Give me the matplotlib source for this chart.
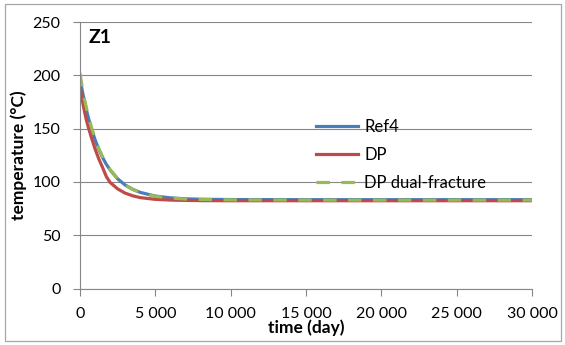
import matplotlib
matplotlib.use('Agg')
import matplotlib.pyplot as plt
from matplotlib.patches import Rectangle
from matplotlib.ticker import FuncFormatter

# time in days
time_day = [0, 100, 200, 300, 400, 500, 600, 750, 1000, 1250, 1500, 1750,
            2000, 2500, 3000, 3500, 4000, 5000, 6000, 7000, 8000, 10000,
            15000, 20000, 25000, 30000]

# temperatures (°C)
ref4 = [197, 189.3, 182.1, 175.4, 169.1, 163.3, 157.9, 150.4, 139.6, 130.5,
        122.9, 116.5, 111.2, 102.9, 97.1, 93.1, 90.2, 86.8, 85.1, 84.2,
        83.8, 83.5, 83.4, 83.4, 83.4, 83.4]
dp = [190, 181, 173, 166, 159.5, 154, 149, 142, 131, 121.5, 113.5, 105,
      99.5, 93.5, 89.5, 87, 85.3, 83.7, 83, 82.7, 82.5, 82.4, 82.4, 82.4,
      82.4, 82.4]
dp_dual = [202, 193, 185, 177.5, 171, 165, 159, 151.5, 140.5, 131, 123.5,
           117, 111.5, 103, 97, 93, 90, 86.5, 85, 84, 83.6, 83.2, 83.0,
           83.0, 83.0, 83.0]

x_ticks = [0, 5000, 10000, 15000, 20000, 25000, 30000]
y_ticks = [0, 50, 100, 150, 200, 250]

plt.rcParams['font.family'] = ['Lato', 'DejaVu Sans']

fig = plt.figure(figsize=(5.65, 3.45), dpi=100)
ax = fig.add_axes([80 / 565, 1 - 288.6 / 345, 452 / 565, 266.6 / 345])

# outer chart border
fig.patches.append(Rectangle((5 / 565, 4 / 345), 556 / 565, 337 / 345,
                             transform=fig.transFigure, fill=False,
                             edgecolor='#a6a6a6', linewidth=0.9))

ax.plot(time_day, ref4, color='#4a7ebb', lw=2.3, label='Ref4')
ax.plot(time_day, dp, color='#be4b48', lw=2.3, label='DP')
ax.plot(time_day, dp_dual, color='#98b954', lw=2.3, dashes=(4.2, 3.6),
        dash_capstyle='butt', label='DP dual-fracture')

ax.set_xlim(0, 30000)
ax.set_ylim(0, 250)
ax.set_xticks(x_ticks)
ax.set_yticks(y_ticks)
ax.xaxis.set_major_formatter(FuncFormatter(lambda v, p: f'{int(v):,}'.replace(',', ' ')))
ax.tick_params(direction='out', length=5, width=0.8, color='#868686',
               labelsize=11.5)
ax.tick_params(axis='x', pad=8)
ax.tick_params(axis='y', pad=9)

ax.grid(axis='y', color='#868686', linewidth=0.8)
ax.set_axisbelow(True)
for s in ['top', 'right']:
    ax.spines[s].set_visible(False)
for s in ['left', 'bottom']:
    ax.spines[s].set_color('#868686')
    ax.spines[s].set_linewidth(0.8)

ax.set_xlabel('time (day)', fontsize=12.5, fontweight='bold', labelpad=-1)
ax.set_ylabel('temperature (°C)', fontsize=12.5, fontweight='bold', labelpad=4)
ax.text(0.018, 0.975, 'Z1', transform=ax.transAxes, fontsize=14,
        fontweight='bold', va='top', ha='left')

ax.legend(loc='upper left', bbox_to_anchor=(0.522, 0.635), frameon=False,
          fontsize=12, handlelength=2.5, handletextpad=0.4,
          labelspacing=0.7, borderpad=0, borderaxespad=0)

fig.savefig('out.png', dpi=100)
